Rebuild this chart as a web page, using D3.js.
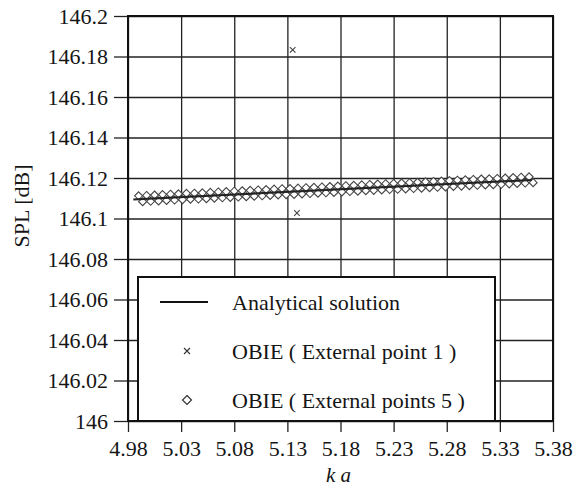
<!DOCTYPE html>
<html>
<head>
<meta charset="utf-8">
<script src="https://cdn.jsdelivr.net/npm/d3@7"></script>
<style>
  html, body { margin: 0; padding: 0; background: #fff; }
  svg { display: block; }
  text { font-family: "Liberation Serif", "Times New Roman", serif; fill: #151515; }
</style>
</head>
<body>
<svg id="chart" width="574" height="489"></svg>
<script>
// ---- data ----
const xTicks = [4.98, 5.03, 5.08, 5.13, 5.18, 5.23, 5.28, 5.33, 5.38];
const xTickLabels = ["4.98", "5.03", "5.08", "5.13", "5.18", "5.23", "5.28", "5.33", "5.38"];
const yTicks = [146, 146.02, 146.04, 146.06, 146.08, 146.1, 146.12, 146.14, 146.16, 146.18, 146.2];
const yTickLabels = ["146", "146.02", "146.04", "146.06", "146.08", "146.1", "146.12", "146.14", "146.16", "146.18", "146.2"];

const analyticKa = [4.985, 5.360];
const analyticSpl = [146.1094, 146.1190];

const obie1Ka = [5.135, 5.139];
const obie1Spl = [146.1833, 146.1027];

const obie5UpperKa = [4.9900, 4.9975, 5.0050, 5.0125, 5.0200, 5.0275, 5.0350, 5.0425, 5.0500, 5.0575,
  5.0650, 5.0725, 5.0800, 5.0875, 5.0950, 5.1025, 5.1100, 5.1175, 5.1250, 5.1325,
  5.1400, 5.1475, 5.1550, 5.1625, 5.1700, 5.1775, 5.1850, 5.1925, 5.2000, 5.2075,
  5.2150, 5.2225, 5.2300, 5.2375, 5.2450, 5.2525, 5.2600, 5.2675, 5.2750, 5.2825,
  5.2900, 5.2975, 5.3050, 5.3125, 5.3200, 5.3275, 5.3350, 5.3425, 5.3500, 5.3575];
const obie5UpperSpl = [146.1112, 146.1114, 146.1116, 146.1118, 146.1120, 146.1122, 146.1124, 146.1125, 146.1127, 146.1129,
  146.1131, 146.1133, 146.1135, 146.1137, 146.1139, 146.1141, 146.1143, 146.1145, 146.1147, 146.1148,
  146.1150, 146.1152, 146.1154, 146.1156, 146.1158, 146.1160, 146.1162, 146.1164, 146.1166, 146.1168,
  146.1170, 146.1172, 146.1173, 146.1175, 146.1177, 146.1179, 146.1181, 146.1183, 146.1185, 146.1187,
  146.1189, 146.1191, 146.1193, 146.1195, 146.1196, 146.1198, 146.1200, 146.1202, 146.1204, 146.1206];
const obie5LowerKa = [4.9938, 5.0013, 5.0088, 5.0163, 5.0238, 5.0313, 5.0388, 5.0463, 5.0538, 5.0613,
  5.0688, 5.0763, 5.0838, 5.0913, 5.0988, 5.1063, 5.1138, 5.1213, 5.1288, 5.1363,
  5.1438, 5.1513, 5.1588, 5.1663, 5.1738, 5.1813, 5.1888, 5.1963, 5.2038, 5.2113,
  5.2188, 5.2263, 5.2338, 5.2413, 5.2488, 5.2563, 5.2638, 5.2713, 5.2788, 5.2863,
  5.2938, 5.3013, 5.3088, 5.3163, 5.3238, 5.3313, 5.3388, 5.3463, 5.3538, 5.3613];
const obie5LowerSpl = [146.1083, 146.1085, 146.1087, 146.1089, 146.1091, 146.1093, 146.1095, 146.1096, 146.1098, 146.1100,
  146.1102, 146.1104, 146.1106, 146.1108, 146.1110, 146.1112, 146.1114, 146.1116, 146.1118, 146.1119,
  146.1121, 146.1123, 146.1125, 146.1127, 146.1129, 146.1131, 146.1133, 146.1135, 146.1137, 146.1139,
  146.1141, 146.1143, 146.1144, 146.1146, 146.1148, 146.1150, 146.1152, 146.1154, 146.1156, 146.1158,
  146.1160, 146.1162, 146.1164, 146.1166, 146.1167, 146.1169, 146.1171, 146.1173, 146.1175, 146.1177];

const legendLabels = ["Analytical solution", "OBIE ( External point 1 )", "OBIE ( External points 5 )"];

// ---- layout ----
const svg = d3.select("#chart");
const m = { left: 128, top: 16, right: 21, bottom: 68 };
const W = 574 - m.left - m.right;
const H = 489 - m.top - m.bottom;
const g = svg.append("g").attr("transform", `translate(${m.left},${m.top})`);

const x = d3.scaleLinear().domain([4.98, 5.38]).range([0, W]);
const y = d3.scaleLinear().domain([146, 146.2]).range([H, 0]);

// grid
g.append("g").attr("class", "grid")
  .call(d3.axisLeft(y).tickValues(yTicks).tickSize(-W).tickFormat(""))
  .call(s => s.select(".domain").remove())
  .call(s => s.selectAll("line").attr("stroke", "#222").attr("stroke-width", 1.3));
g.append("g").attr("class", "grid").attr("transform", `translate(0,${H})`)
  .call(d3.axisBottom(x).tickValues(xTicks).tickSize(-H).tickFormat(""))
  .call(s => s.select(".domain").remove())
  .call(s => s.selectAll("line").attr("stroke", "#222").attr("stroke-width", 1.3));

// axes (outside ticks + labels)
g.append("g")
  .call(d3.axisLeft(y).tickValues(yTicks).tickSize(14).tickPadding(6)
    .tickFormat((d, i) => yTickLabels[i]))
  .call(s => s.select(".domain").remove())
  .call(s => s.selectAll("line").attr("stroke", "#222").attr("stroke-width", 1.3))
  .call(s => s.selectAll("text").attr("font-size", 22).attr("fill", "#151515"));
g.append("g").attr("transform", `translate(0,${H})`)
  .call(d3.axisBottom(x).tickValues(xTicks).tickSize(11).tickPadding(8)
    .tickFormat((d, i) => xTickLabels[i]))
  .call(s => s.select(".domain").remove())
  .call(s => s.selectAll("line").attr("stroke", "#222").attr("stroke-width", 1.3))
  .call(s => s.selectAll("text").attr("font-size", 22).attr("fill", "#151515"));

// frame
g.append("rect").attr("width", W).attr("height", H)
  .attr("fill", "none").attr("stroke", "#111").attr("stroke-width", 2);

// diamonds
const diamond = r => `M0,${-r}L${r},0L0,${r}L${-r},0Z`;
const pts5 = obie5UpperKa.map((k, i) => ({ k, v: obie5UpperSpl[i] }))
  .concat(obie5LowerKa.map((k, i) => ({ k, v: obie5LowerSpl[i] })));
g.append("g").selectAll("path").data(pts5).join("path")
  .attr("transform", d => `translate(${x(d.k)},${y(d.v)})`)
  .attr("d", diamond(4))
  .attr("fill", "#fff").attr("stroke", "#444").attr("stroke-width", 1.1);

// analytical line
g.append("path")
  .datum(analyticKa.map((k, i) => [k, analyticSpl[i]]))
  .attr("d", d3.line().x(d => x(d[0])).y(d => y(d[1])))
  .attr("fill", "none").attr("stroke", "#222").attr("stroke-width", 2);

// crosses
const cross = r => `M${-r},${-r}L${r},${r}M${-r},${r}L${r},${-r}`;
g.append("g").selectAll("path").data(obie1Ka.map((k, i) => ({ k, v: obie1Spl[i] }))).join("path")
  .attr("transform", d => `translate(${x(d.k)},${y(d.v)})`)
  .attr("d", cross(2.8))
  .attr("fill", "none").attr("stroke", "#444").attr("stroke-width", 1.1);

// legend
const lg = svg.append("g");
lg.append("rect").attr("x", 138).attr("y", 277).attr("width", 357).attr("height", 144)
  .attr("fill", "#fff").attr("stroke", "#111").attr("stroke-width", 2);
const rows = [302, 351, 400];
lg.append("line").attr("x1", 160).attr("x2", 208).attr("y1", rows[0]).attr("y2", rows[0])
  .attr("stroke", "#111").attr("stroke-width", 2);
lg.append("path").attr("transform", `translate(187,${rows[1]})`).attr("d", cross(3))
  .attr("fill", "none").attr("stroke", "#333").attr("stroke-width", 1.1);
lg.append("path").attr("transform", `translate(187,${rows[2]})`).attr("d", diamond(4.5))
  .attr("fill", "#fff").attr("stroke", "#333").attr("stroke-width", 1.2);
lg.selectAll("text.lab").data(legendLabels).join("text").attr("class", "lab")
  .attr("x", 232).attr("y", (d, i) => rows[i] + 7.5)
  .attr("font-size", 22).text(d => d);

// axis titles
svg.append("text").attr("x", m.left + W / 2 - 2).attr("y", 482)
  .attr("text-anchor", "middle").attr("font-size", 21).attr("font-style", "italic")
  .text("k a");
svg.append("text").attr("transform", "translate(29,206) rotate(-90)")
  .attr("text-anchor", "middle").attr("font-size", 22)
  .text("SPL [dB]");
</script>
</body>
</html>
